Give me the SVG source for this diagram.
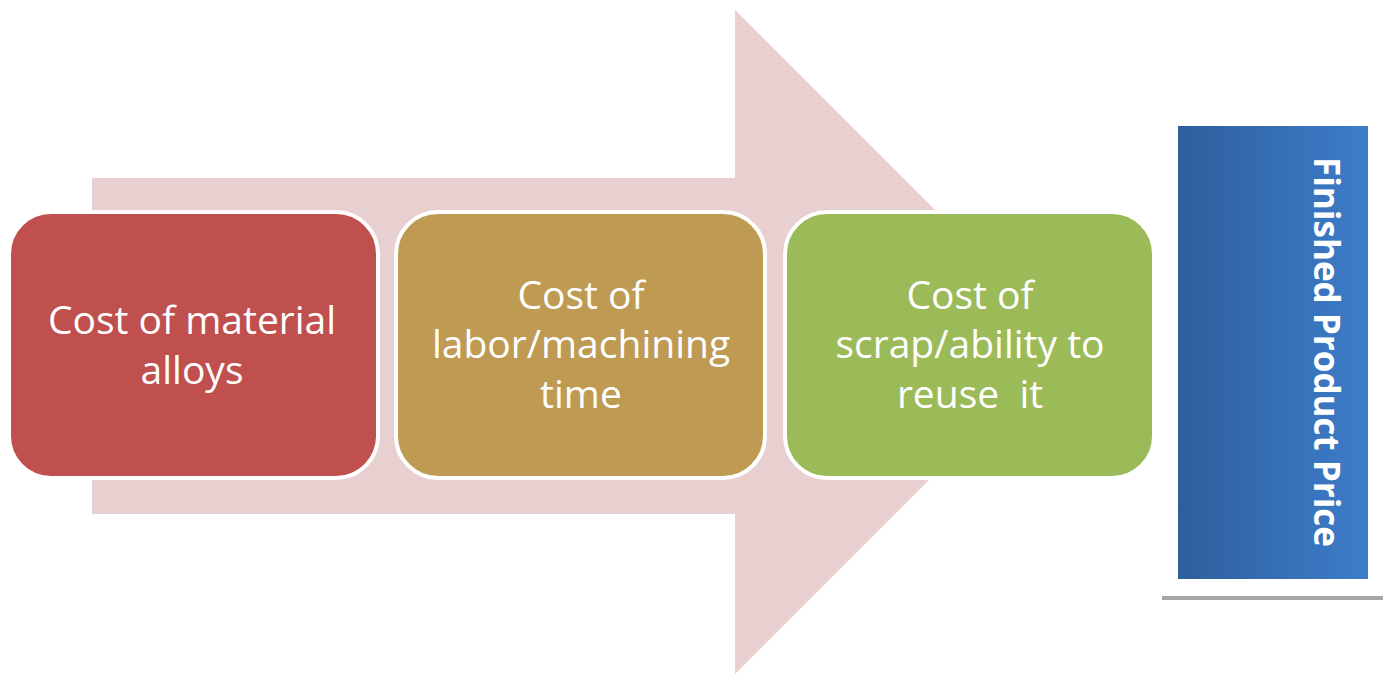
<svg xmlns="http://www.w3.org/2000/svg" width="1383" height="674" viewBox="0 0 1383 674">
<style>
.box{stroke:#fff;stroke-width:4}
.t{font-family:"Open Sans","Liberation Sans",sans-serif;font-size:39px;fill:#fff;text-anchor:middle;white-space:pre}
.v{font-family:"Open Sans","Liberation Sans",sans-serif;font-size:35px;font-weight:bold;fill:#fff;text-anchor:middle}
</style>
<defs>
<linearGradient id="bg" x1="0" y1="0" x2="1" y2="0">
<stop offset="0" stop-color="#2E5E9C"/>
<stop offset="1" stop-color="#3D7DCA"/>
</linearGradient>
</defs>
<g id="arrow">
<path d="M92,178 H735 V10 L1067,342 L735,674 V514 H92 Z" fill="#E8D0D1"/>
</g>
<g id="node1">
<rect class="box" x="9" y="212" width="369" height="266" rx="42" fill="#C0504D"/>
<text class="t" x="192" y="334">Cost of material</text>
<text class="t" x="192" y="384">alloys</text>
</g>
<g id="node2">
<rect class="box" x="396" y="212" width="369" height="266" rx="42" fill="#BE9A53"/>
<text class="t" x="581" y="309">Cost of</text>
<text class="t" x="581" y="358">labor/machining</text>
<text class="t" x="581" y="408">time</text>
</g>
<g id="node3">
<rect class="box" x="785" y="212" width="369" height="266" rx="42" fill="#9BBB59"/>
<text class="t" x="970" y="309">Cost of</text>
<text class="t" x="970" y="358">scrap/ability to</text>
<text class="t" x="970" y="408" xml:space="preserve">reuse  it</text>
</g>
<g id="node4">
<rect x="1178" y="126" width="190" height="453" fill="url(#bg)"/>
<text class="v" transform="translate(1314,352) rotate(90)">Finished Product Price</text>
<line x1="1162" y1="598" x2="1383" y2="598" stroke="#A6A6A6" stroke-width="4"/>
</g>
</svg>
